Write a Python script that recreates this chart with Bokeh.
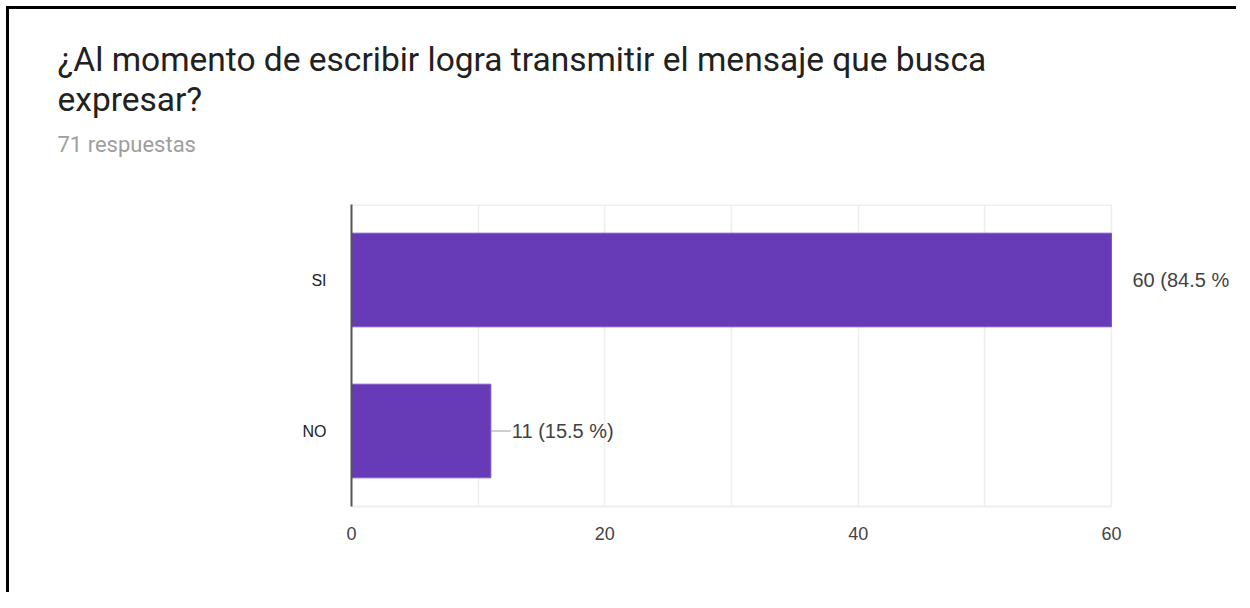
from bokeh.plotting import figure
from bokeh.models import (ColumnDataSource, FactorRange, Range1d, FixedTicker,
                          LabelSet, Title)
from bokeh.core.properties import value
from bokeh.embed import file_html
from bokeh.resources import INLINE

# ---- data ----
title_lines = ["¿Al momento de escribir logra transmitir el mensaje que busca",
               "expresar?"]
subtitle = "71 respuestas"
categories = ["NO", "SI"]          # bottom -> top
counts = [11, 60]
bar_labels = ["11 (15.5 %)", "60 (84.5 %"]
x_ticks = [0, 20, 40, 60]
x_grid = [0, 10, 20, 30, 40, 50, 60]
x_max = 60

W, H = 1236, 592
RIGHT = 5
FONT = "Liberation Sans"
PX_PER_UNIT = 760 / x_max
LEAD = 20 / PX_PER_UNIT

src = ColumnDataSource(dict(cat=categories, count=counts, label=bar_labels,
                            lead_end=[min(c + LEAD, x_max) for c in counts]))

x_end = x_max + (W - RIGHT - 1111) / PX_PER_UNIT
p = figure(width=W, height=H, output_backend="svg", toolbar_location=None,
           y_range=FactorRange(factors=categories), x_range=Range1d(0, x_end),
           min_border_left=351, min_border_right=RIGHT,
           min_border_top=204, min_border_bottom=H - 506)
# screenshot frame: black line on the left and top edges
p.styles = {"box-shadow": "inset 6px 6px 0 0 #fff, inset 9px 9px 0 0 #000"}
p.background_fill_color = "white"
p.border_fill_color = None
p.outline_line_color = None

p.hbar(y="cat", right="count", left=0, height=0.62, source=src,
       fill_color="#673ab7", line_color="#7e57c2", line_width=1)
p.segment(x0="count", y0="cat", x1="lead_end", y1="cat", source=src,
          line_color="#9e9e9e", line_width=1.2)
# light top edge of the plot area
p.segment(x0=[0], y0=[len(categories)], x1=[x_max], y1=[len(categories)],
          line_color="#eeeeee", line_width=3)

p.add_layout(LabelSet(x="count", y="cat", text="label", source=src, x_offset=21,
                      text_baseline="middle", text_align="left",
                      text_font=value(FONT), text_font_size=value("20px"),
                      text_color=value("#424242")))

# axes
p.xaxis.ticker = FixedTicker(ticks=x_ticks)
p.xaxis.bounds = (0, x_max)
p.xaxis.axis_line_color = "#eeeeee"
p.xaxis.axis_line_width = 2
p.xaxis.major_tick_line_color = None
p.xaxis.minor_tick_line_color = None
p.xaxis.major_label_standoff = 14
p.xaxis.major_label_text_font = FONT
p.xaxis.major_label_text_font_size = "18px"
p.xaxis.major_label_text_color = "#444444"

p.yaxis.axis_line_color = "#555555"
p.yaxis.axis_line_width = 2
p.yaxis.major_tick_line_color = None
p.yaxis.minor_tick_line_color = None
p.yaxis.major_label_standoff = 19
p.yaxis.major_label_text_font = FONT
p.yaxis.major_label_text_font_size = "16px"
p.yaxis.major_label_text_color = "#222222"

p.xgrid.ticker = FixedTicker(ticks=x_grid)
p.xgrid.grid_line_color = "#eeeeee"
p.xgrid.grid_line_width = 1.5
p.ygrid.grid_line_color = None

# header texts (first added sits closest to the plot area)
p.add_layout(Title(text=" ", align="left", offset=-294, standoff=45,
                   text_font_size="1px", text_color="white"), "above")
p.add_layout(Title(text=subtitle, align="left", offset=-294, standoff=0,
                   text_font="Roboto", text_font_size="22px",
                   text_font_style="normal", text_color="#9e9e9e"), "above")
p.add_layout(Title(text="\n".join(title_lines), align="left", offset=-294,
                   standoff=20, text_line_height=1.03,
                   text_font="Roboto", text_font_size="33.5px",
                   text_font_style="normal", text_color="#212121"), "above")

open("out.html", "w").write(file_html(p, INLINE))
